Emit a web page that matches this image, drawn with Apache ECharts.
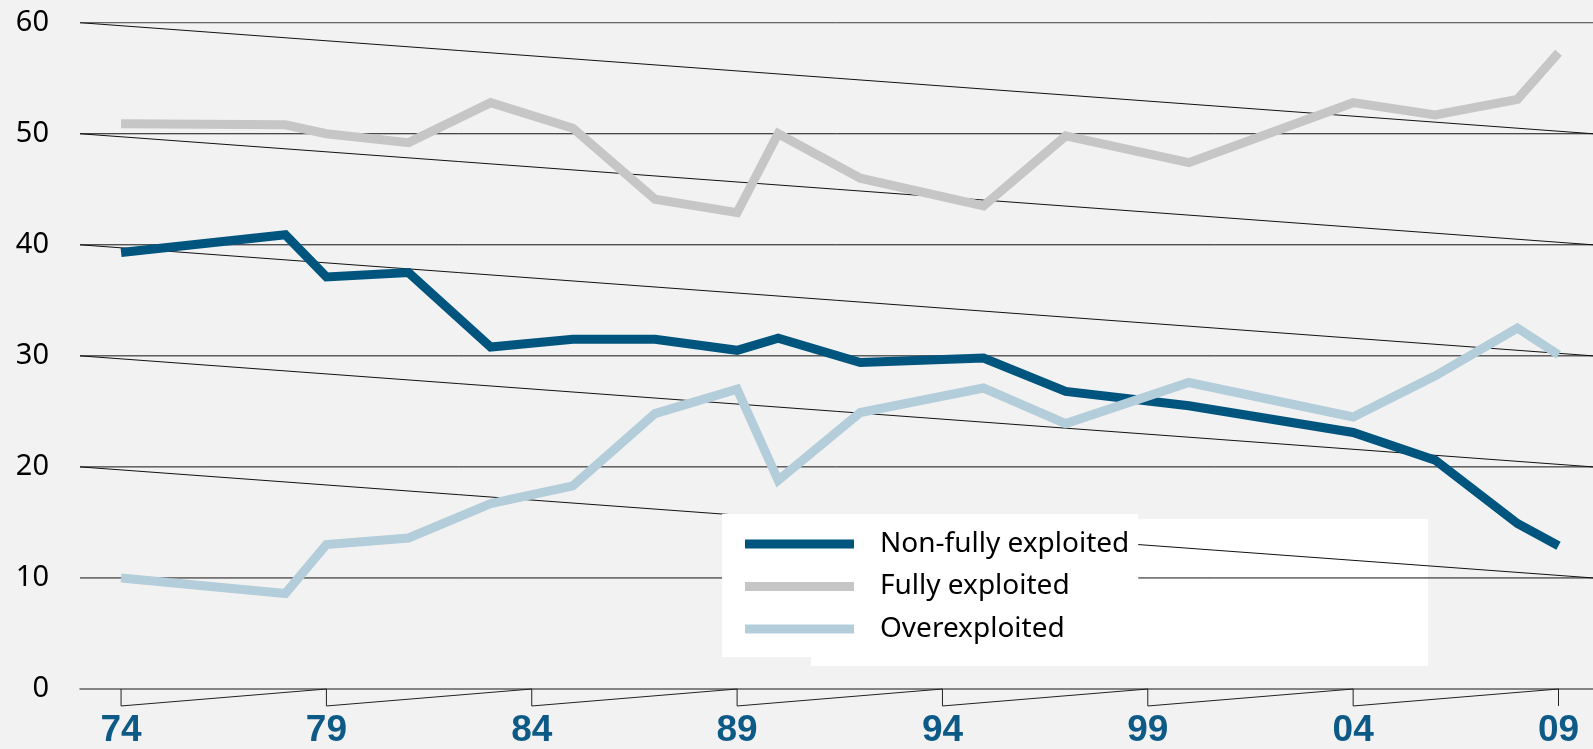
<!DOCTYPE html>
<html>
<head>
<meta charset="utf-8">
<script src="https://cdn.jsdelivr.net/npm/echarts@6/dist/echarts.min.js"></script>
<style>
html,body{margin:0;padding:0;background:#f2f2f2;}
#chart{width:1593px;height:749px;}
</style>
</head>
<body>
<div id="chart"></div>
<script>
// ---- data ----
var years = [1974,1978,1979,1981,1983,1985,1987,1989,1990,1992,1995,1997,2000,2004,2006,2008,2009];
var nonFully = [39.3,40.9,37.1,37.5,30.8,31.5,31.5,30.5,31.6,29.4,29.8,26.8,25.5,23.1,20.6,14.9,12.9];
var fully    = [50.9,50.8,50.0,49.2,52.8,50.5,44.1,42.9,50.0,46.0,43.5,49.8,47.4,52.8,51.7,53.1,57.3];
var over     = [10.0,8.6,13.0,13.6,16.7,18.3,24.8,27.0,18.8,24.9,27.1,23.9,27.6,24.5,28.2,32.5,30.1];
var seriesNames = ['Non-fully exploited','Fully exploited','Overexploited'];
var xTickYears = [1974,1979,1984,1989,1994,1999,2004,2009];
var xTickLabels = ['74','79','84','89','94','99','04','09'];
var yTicks = [0,10,20,30,40,50,60];

// ---- layout ----
var X_MIN = 1973, X_MAX = 2009.84;
var GRID = {left: 80, right: 0, top: 22.7, bottom: 59};
var CHART_H = 749;
var pxPerUnit = (CHART_H - GRID.top - GRID.bottom) / 60;
var tickDepth = 17 / pxPerUnit;

function zip(xs, ys){ return xs.map(function(x,i){ return [x, ys[i]]; }); }

// zigzag gridlines: right->left on each line, then diagonal to next line's right end
var gridPath = [];
yTicks.slice().reverse().forEach(function(v){
  if (v === 0) return;
  gridPath.push([X_MAX, v]);
  gridPath.push([X_MIN, v]);
});
// zigzag x ticks
var tickPath = [];
xTickYears.forEach(function(y){
  tickPath.push([y, 0]);
  tickPath.push([y, -tickDepth]);
});

var chart = echarts.init(document.getElementById('chart'), null, {renderer:'canvas'});
var lineCommon = {type:'line', symbol:'none', animation:false, z:3,
  lineStyle:{width:9, cap:'butt', join:'miter', miterLimit:10}};
var colors = ['#00557f','#c6c6c6','#b3cdda'];

chart.setOption({
  backgroundColor:'#f2f2f2',
  animation:false,
  grid:{left:GRID.left, right:GRID.right, top:GRID.top, bottom:GRID.bottom, containLabel:false},
  xAxis:{
    type:'value', min:X_MIN, max:X_MAX,
    axisLine:{show:true, onZero:false, lineStyle:{color:'#5f5f5f', width:1.5}},
    axisTick:{show:false},
    splitLine:{show:false},
    axisLabel:{
      customValues:xTickYears, margin:23,
      color:'#0e5a87', fontFamily:'Liberation Sans', fontWeight:'bold', fontSize:37,
      formatter:function(v){ var i = xTickYears.indexOf(Math.round(v)); return i>=0 ? xTickLabels[i] : ''; }
    }
  },
  yAxis:{
    type:'value', min:0, max:60, interval:10,
    axisLine:{show:false}, axisTick:{show:false}, splitLine:{show:false},
    axisLabel:{margin:31, color:'#000', fontFamily:'Noto Sans', fontSize:29}
  },
  legend:{
    data:seriesNames, orient:'vertical', left:722, top:514,
    backgroundColor:'#fff', borderWidth:0,
    padding:[16,9,14,23], itemGap:14.5,
    icon:'rect', itemWidth:109, itemHeight:9,
    textStyle:{fontFamily:'Noto Sans', fontSize:28, color:'#000', padding:[0,0,0,21], lineHeight:28},
    selectedMode:false
  },
  graphic:[{
    type:'rect', z:0, silent:true,
    shape:{x:811, y:519, width:617, height:147},
    style:{fill:'#ffffff'}
  }],
  series:[
    {name:'gridZigzag', type:'line', data:gridPath, symbol:'none', silent:true, animation:false, z:1,
      lineStyle:{color:'#111', width:1}},
    {name:'tickZigzag', type:'line', data:tickPath, symbol:'none', silent:true, animation:false, z:1, clip:false,
      lineStyle:{color:'#222', width:1}},
    Object.assign({}, lineCommon, {name:seriesNames[0], data:zip(years, nonFully), color:colors[0]}),
    Object.assign({}, lineCommon, {name:seriesNames[1], data:zip(years, fully), color:colors[1]}),
    Object.assign({}, lineCommon, {name:seriesNames[2], data:zip(years, over), color:colors[2]})
  ]
});
</script>
</body>
</html>
